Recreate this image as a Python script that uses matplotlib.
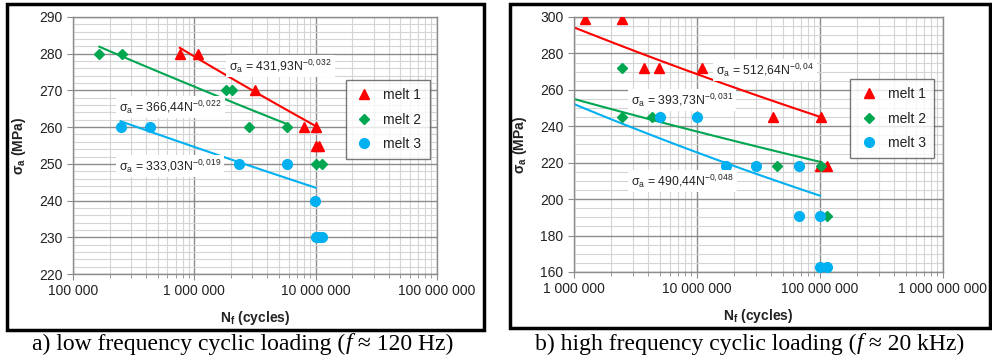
import numpy as np
import matplotlib
matplotlib.use("Agg")
import matplotlib.pyplot as plt
from matplotlib.ticker import FuncFormatter, LogLocator, MultipleLocator
from matplotlib.patches import Rectangle

plt.rcParams['font.family'] = ['Liberation Sans', 'DejaVu Sans']
plt.rcParams['mathtext.fontset'] = 'custom'
plt.rcParams['mathtext.rm'] = 'Liberation Sans'
plt.rcParams['mathtext.it'] = 'Liberation Sans:italic'
plt.rcParams['mathtext.bf'] = 'Liberation Sans:bold'

series_names = ["melt 1", "melt 2", "melt 3"]

# ---- panel a) low frequency ----
a_m1_N = [7.6e5, 1.07e6, 3.18e6, 8.0e6, 1.0e7, 1.01e7, 1.07e7]
a_m1_s = [280, 280, 270, 260, 260, 255, 255]
a_m2_N = [1.65e5, 2.52e5, 1.84e6, 2.03e6, 2.81e6, 5.84e6, 1.0e7, 1.12e7]
a_m2_s = [280, 280, 270, 270, 260, 260, 250, 250]
a_m3_N = [2.47e5, 4.31e5, 2.34e6, 5.78e6, 9.9e6, 1.0e7, 1.07e7, 1.13e7]
a_m3_s = [260, 260, 250, 250, 240, 230, 230, 230]
# trend line end points (N, sigma)
a_tr_N = [(7.6e5, 1.0e7), (1.65e5, 5.84e6), (2.47e5, 1.0e7)]
a_tr_s = [(281.6, 260.3), (281.9, 260.8), (261.6, 243.5)]
a_eq = ["431,93", "366,44", "333,03"]
a_exp = ["-0,032", "-0,022", "-0,019"]

# ---- panel b) high frequency ----
b_m1_N = [1.24e6, 2.47e6, 3.71e6, 4.94e6, 1.1e7, 4.17e7, 1.01e8, 1.0e8, 1.13e8]
b_m1_s = [299, 299, 272, 272, 272, 245, 245, 218, 218]
b_m2_N = [2.47e6, 2.47e6, 4.33e6, 4.47e7, 1.01e8, 1.13e8]
b_m2_s = [272, 245, 245, 218, 218, 191]
b_m3_N = [4.97e6, 1.0e7, 1.72e7, 3.04e7, 6.79e7, 6.79e7, 1.0e8, 1.0e8, 1.13e8]
b_m3_s = [245, 245, 218, 218, 218, 191, 191, 163, 163]
b_tr_N = [(1e6, 1e8), (1e6, 1e8), (1e6, 1e8)]
b_tr_s = [(294.3, 245.2), (255.0, 220.5), (252.2, 201.9)]
b_eq = ["512,64", "393,73", "490,44"]
b_exp = ["-0,04", "-0,031", "-0,048"]

captions = [("a) low frequency cyclic loading (", "f", " ≈ 120 Hz)"),
            ("b) high frequency cyclic loading (", "f", " ≈ 20 kHz)")]

colors = ["#FF0000", "#00A650", "#00B0F0"]
markers = ["^", "D", "o"]
msizes = [7, 5, 7]

W, H = 992, 364
fig = plt.figure(figsize=(W / 100, H / 100), dpi=100)
renderer = fig.canvas.get_renderer()

def fx(px):
    return px / W

def fy(py):
    return 1 - py / H

def thousands(v, pos):
    return f"{int(round(v)):,}".replace(",", " ")

def caption_text(parts, cx, cy):
    serif = ["Liberation Serif", "DejaVu Serif"]
    styles = ["normal", "italic", "normal"]
    texts = []
    widths = []
    for p, st in zip(parts, styles):
        t = fig.text(0, fy(cy), p, fontsize=17, family=serif, style=st, ha="left", va="center")
        texts.append(t)
        widths.append(t.get_window_extent(renderer).width)
    x = cx - sum(widths) / 2
    for t, w in zip(texts, widths):
        t.set_x(fx(x))
        x += w

def make_panel(rect, xlim, ylim, ymaj, ymin, data, trN, trs, eqs, exps, eqpos, legpos):
    ax = fig.add_axes(rect)
    ax.set_xscale("log")
    ax.set_xlim(*xlim)
    ax.set_ylim(*ylim)
    ax.yaxis.set_major_locator(MultipleLocator(ymaj))
    ax.yaxis.set_minor_locator(MultipleLocator(ymin))
    ax.xaxis.set_major_locator(LogLocator(base=10, numticks=20))
    ax.xaxis.set_minor_locator(LogLocator(base=10, subs=np.arange(2, 10), numticks=100))
    ax.xaxis.set_major_formatter(FuncFormatter(thousands))
    ax.xaxis.set_minor_formatter(FuncFormatter(lambda v, p: ""))
    ax.grid(which="major", color="#8c8c8c", lw=1.0)
    ax.grid(which="minor", color="#d4d4d4", lw=0.8)
    ax.set_axisbelow(True)
    for s in ax.spines.values():
        s.set_color("#8c8c8c")
        s.set_linewidth(1.0)
    ax.tick_params(axis="both", which="major", length=4, color="#8c8c8c", labelsize=10, labelcolor="#222222")
    ax.tick_params(axis="x", which="minor", length=3, color="#8c8c8c")
    ax.tick_params(axis="y", which="minor", length=0)
    ax.tick_params(axis="x", which="major", pad=3)
    handles = []
    for i, (Ns, ss) in enumerate(data):
        (n0, n1), (s0, s1) = trN[i], trs[i]
        b = np.log(s1 / s0) / np.log(n1 / n0)
        nn = np.logspace(np.log10(n0), np.log10(n1), 60)
        ax.plot(nn, s0 * (nn / n0) ** b, color=colors[i], lw=1.5, zorder=2)
        h, = ax.plot(Ns, ss, ls="none", marker=markers[i], ms=msizes[i], color=colors[i],
                     mec=colors[i], zorder=3, label=series_names[i])
        handles.append(h)
    for i in range(3):
        x, y = eqpos[i]
        ax.text(x, y, "σ$_\\mathregular{a}$ = " + eqs[i] + "N$^{\\mathregular{" + exps[i] + "}}$",
                transform=fig.transFigure, fontsize=8.8, color="#222222", ha="left", va="center",
                bbox=dict(facecolor="white", edgecolor="none", pad=2), zorder=4)
    leg = ax.legend(handles=handles, loc="upper left", bbox_to_anchor=legpos, frameon=True,
                    fancybox=False, edgecolor="#555555", fontsize=10, labelspacing=0.75,
                    handlelength=1.5, handletextpad=0.6, borderpad=0.6, borderaxespad=0)
    leg.get_frame().set_linewidth(1.0)
    for t in leg.get_texts():
        t.set_color("#222222")
    ax.set_xlabel(r"$\mathbf{N_f}$ (cycles)", fontsize=10, fontweight="bold", labelpad=8, color="#222222")
    ax.set_ylabel(r"$\mathbf{σ_a}$ (MPa)", fontsize=10, fontweight="bold", labelpad=8, color="#222222")
    return ax

make_panel([fx(73), fy(274), fx(437) - fx(73), fy(17) - fy(274)], (1e5, 1e8), (220, 290), 10, 2,
           [(a_m1_N, a_m1_s), (a_m2_N, a_m2_s), (a_m3_N, a_m3_s)], a_tr_N, a_tr_s, a_eq, a_exp,
           [(fx(229), fy(66)), (fx(119), fy(107)), (fx(119), fy(166))], (0.749, 0.755))

make_panel([fx(574), fy(272), fx(943) - fx(574), fy(17) - fy(272)], (1e6, 1e9), (160, 300), 20, 5,
           [(b_m1_N, b_m1_s), (b_m2_N, b_m2_s), (b_m3_N, b_m3_s)], b_tr_N, b_tr_s, b_eq, b_exp,
           [(fx(716), fy(70)), (fx(631), fy(100)), (fx(631), fy(181))], (0.748, 0.757))

caption_text(captions[0], 243, 344)
caption_text(captions[1], 750, 344)

fig.patches.append(Rectangle((fx(7), fy(330)), fx(484) - fx(7), fy(4) - fy(330), transform=fig.transFigure,
                             fill=False, edgecolor="black", lw=2.5))
fig.patches.append(Rectangle((fx(510), fy(328)), fx(990) - fx(510), fy(4) - fy(328), transform=fig.transFigure,
                             fill=False, edgecolor="black", lw=2.5))

fig.savefig("out.png", dpi=100)
